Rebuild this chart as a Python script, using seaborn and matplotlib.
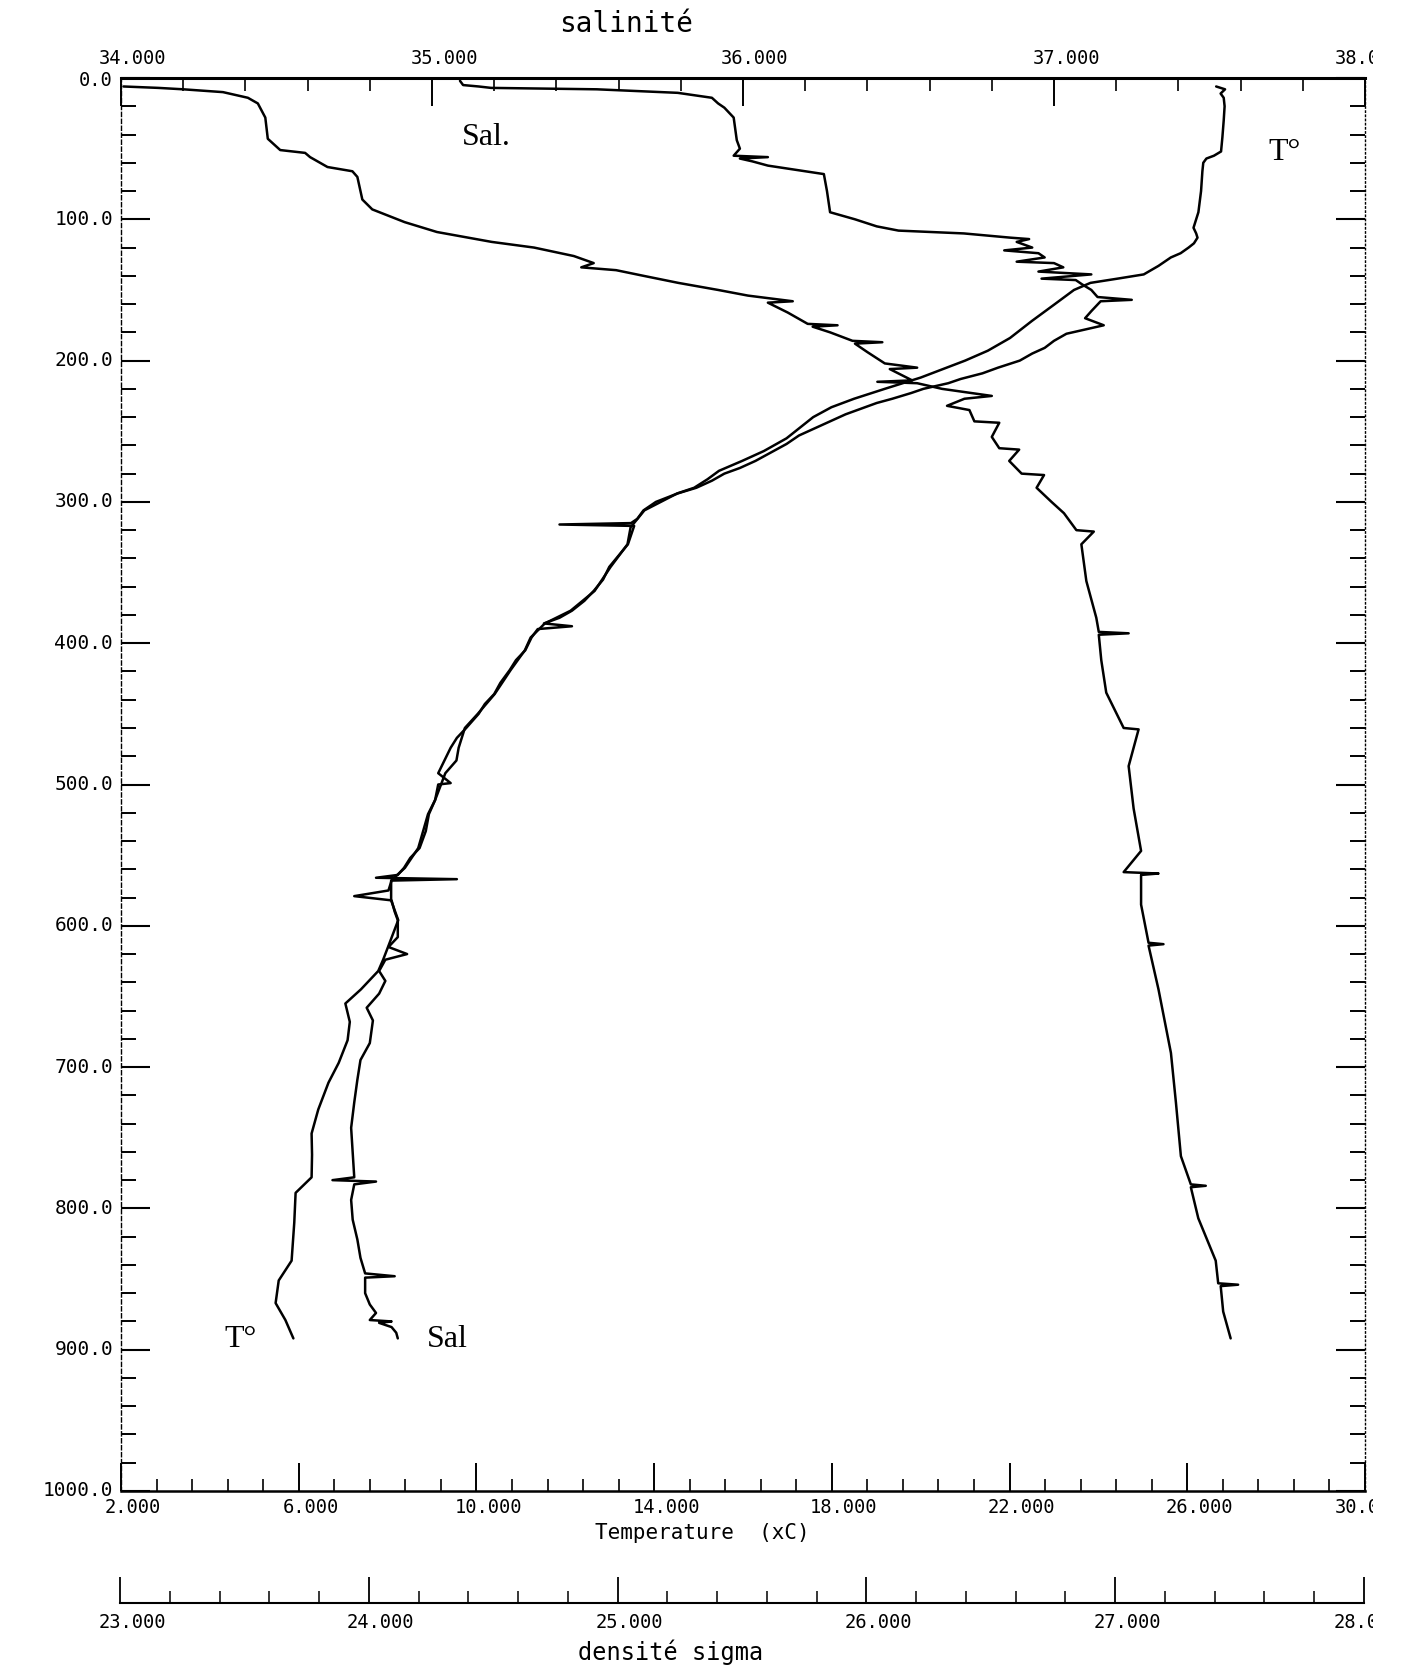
import matplotlib
matplotlib.use("Agg")
import matplotlib.pyplot as plt
import matplotlib.transforms as mtransforms
from matplotlib.ticker import FixedLocator
import numpy as np
import seaborn as sns

# CTD profile (depth in m)
temp_depth = [6, 8, 11, 14, 20, 30, 42, 52, 55, 57,
              60, 66, 80, 95, 106, 110, 113, 117, 120, 124,
              127, 133, 139, 142, 145, 150, 160, 172, 184, 193,
              200, 206, 212, 220, 227, 233, 240, 255, 264, 271,
              278, 284, 290, 294, 306, 318, 330, 346, 363, 377,
              386, 396, 405, 419, 436, 450, 460, 474, 483, 492,
              511, 521, 545, 559, 568, 582, 596, 615, 624, 632,
              645, 655, 668, 681, 697, 711, 730, 747, 762, 778,
              789, 810, 837, 851, 867, 879, 892]
temp_val = [26.65, 26.85, 26.75, 26.82, 26.84, 26.82, 26.79, 26.76, 26.60, 26.43,
            26.36, 26.34, 26.31, 26.25, 26.14, 26.20, 26.23, 26.15, 26.03, 25.85,
            25.63, 25.35, 25.02, 24.43, 23.82, 23.45, 23.02, 22.50, 22.01, 21.51,
            21.00, 20.50, 20.00, 19.19, 18.50, 17.99, 17.58, 16.98, 16.47, 15.98,
            15.46, 15.20, 14.90, 14.52, 13.78, 13.47, 13.40, 13.02, 12.66, 12.12,
            11.54, 11.22, 11.09, 10.77, 10.41, 10.03, 9.74, 9.60, 9.55, 9.30,
            9.07, 8.91, 8.69, 8.39, 8.08, 8.08, 8.24, 8.01, 7.90, 7.79,
            7.40, 7.05, 7.15, 7.10, 6.90, 6.67, 6.44, 6.29, 6.30, 6.29,
            5.93, 5.90, 5.84, 5.55, 5.48, 5.70, 5.88]

sal_depth = [2, 5, 6, 7, 7.5, 8, 10.5, 14, 18, 21,
             28, 44, 50, 55, 56, 57, 59, 62, 65, 68,
             80, 95, 100, 105, 108, 110, 113, 114, 116, 120,
             122, 124, 127, 130, 131, 134, 137, 139, 142, 143,
             146, 150, 155, 157, 158, 165, 170, 175, 181, 186,
             191, 195, 200, 205, 209, 213, 216, 220, 223, 227,
             230, 234, 238, 243, 248, 253, 259, 265, 271, 276,
             280, 285, 290, 294, 300, 306, 312, 315, 316, 317,
             330, 338, 346, 355, 363, 370, 377, 382, 386, 388,
             390, 396, 405, 412, 419, 428, 436, 443, 450, 455,
             460, 467, 474, 483, 492, 499, 500, 511, 521, 533,
             545, 552, 559, 564, 566, 567, 568, 575, 579, 582,
             590, 596, 608, 615, 620, 624, 632, 639, 648, 658,
             667, 683, 695, 709, 725, 743, 760, 778, 780, 781,
             783, 794, 808, 822, 835, 846, 848, 849, 860, 868,
             874, 879, 880, 881, 884, 888, 892]
sal_val = [35.09, 35.10, 35.15, 35.19, 35.35, 35.53, 35.79, 35.90, 35.92, 35.94,
           35.97, 35.98, 35.99, 35.97, 36.08, 35.99, 36.03, 36.08, 36.17, 36.26,
           36.27, 36.28, 36.36, 36.43, 36.50, 36.71, 36.86, 36.92, 36.88, 36.93,
           36.84, 36.95, 36.97, 36.88, 37.00, 37.03, 36.95, 37.12, 36.96, 37.07,
           37.09, 37.12, 37.14, 37.25, 37.15, 37.12, 37.10, 37.16, 37.04, 37.00,
           36.97, 36.93, 36.89, 36.82, 36.77, 36.70, 36.66, 36.58, 36.54, 36.48,
           36.43, 36.38, 36.33, 36.28, 36.23, 36.18, 36.14, 36.09, 36.04, 35.99,
           35.94, 35.90, 35.85, 35.79, 35.72, 35.68, 35.66, 35.64, 35.41, 35.65,
           35.63, 35.60, 35.57, 35.55, 35.52, 35.49, 35.45, 35.41, 35.36, 35.45,
           35.34, 35.32, 35.30, 35.27, 35.25, 35.22, 35.20, 35.17, 35.15, 35.13,
           35.11, 35.08, 35.06, 35.04, 35.02, 35.06, 35.02, 35.01, 34.99, 34.98,
           34.96, 34.93, 34.91, 34.89, 34.82, 35.08, 34.87, 34.86, 34.75, 34.87,
           34.88, 34.89, 34.89, 34.86, 34.92, 34.85, 34.83, 34.85, 34.83, 34.79,
           34.81, 34.80, 34.77, 34.76, 34.75, 34.74, 34.745, 34.75, 34.68, 34.82,
           34.75, 34.74, 34.745, 34.76, 34.77, 34.785, 34.88, 34.785, 34.785, 34.80,
           34.82, 34.80, 34.87, 34.83, 34.87, 34.885, 34.89]

dens_depth = [6, 7, 8, 10, 14, 18, 28, 43, 51, 53,
              56, 63, 66, 70, 86, 93, 102, 109, 116, 120,
              126, 131, 134, 136, 140, 145, 150, 154, 158, 159,
              166, 174, 175, 176, 180, 186, 187, 188, 194, 202,
              205, 206, 214, 215, 216, 220, 225, 227, 232, 235,
              243, 244, 254, 262, 263, 271, 280, 281, 290, 300,
              308, 320, 321, 330, 356, 382, 392, 393, 394, 412,
              435, 460, 461, 487, 517, 547, 562, 563, 564, 585,
              612, 613, 614, 645, 690, 725, 763, 783, 784, 785,
              807, 837, 853, 854, 855, 873, 892]
dens_val = [23.01, 23.15, 23.25, 23.41, 23.51, 23.55, 23.58, 23.59, 23.64, 23.74,
            23.76, 23.83, 23.93, 23.95, 23.97, 24.01, 24.14, 24.27, 24.49, 24.66,
            24.82, 24.90, 24.85, 24.99, 25.10, 25.24, 25.40, 25.52, 25.70, 25.60,
            25.68, 25.76, 25.88, 25.78, 25.85, 25.94, 26.06, 25.95, 26.00, 26.07,
            26.20, 26.09, 26.18, 26.04, 26.20, 26.30, 26.50, 26.39, 26.32, 26.41,
            26.43, 26.53, 26.50, 26.53, 26.61, 26.57, 26.62, 26.71, 26.68, 26.74,
            26.79, 26.84, 26.91, 26.86, 26.88, 26.92, 26.93, 27.05, 26.93, 26.94,
            26.96, 27.03, 27.09, 27.05, 27.07, 27.10, 27.03, 27.17, 27.10, 27.10,
            27.13, 27.19, 27.13, 27.17, 27.22, 27.24, 27.26, 27.30, 27.36, 27.30,
            27.33, 27.40, 27.41, 27.49, 27.42, 27.43, 27.46]

temp_ticks = [2, 6, 10, 14, 18, 22, 26, 30]
sal_ticks = [34, 35, 36, 37, 38]
dens_ticks = [23, 24, 25, 26, 27, 28]
depth_ticks = [0, 100, 200, 300, 400, 500, 600, 700, 800, 900, 1000]

W, H = 1408, 1668
MONO = ["DejaVu Sans Mono", "DejaVu Sans"]
SERIF = ["Liberation Serif", "DejaVu Serif"]

sns.set_theme(style="white", rc={"axes.edgecolor": "black", "xtick.color": "black",
                                 "ytick.color": "black", "text.color": "black"})
plt.rcParams["font.family"] = MONO

fig = plt.figure(figsize=(W / 100, H / 100), dpi=100)
fig.patch.set_facecolor("white")


def px_box(left, top, right, bottom):
    return [left / W, 1 - bottom / H, (right - left) / W, (bottom - top) / H]


ax = fig.add_axes(px_box(121, 78, 1365, 1491))
ax_sal = ax.twiny()
ax_dens = ax.twiny()

line_kw = dict(sort=False, estimator=None, color="black", linewidth=1.8)
sns.lineplot(x=temp_val, y=temp_depth, ax=ax, **line_kw)
sns.lineplot(x=sal_val, y=sal_depth, ax=ax_sal, **line_kw)
sns.lineplot(x=dens_val, y=dens_depth, ax=ax_dens, **line_kw)

ax.set_xlim(temp_ticks[0], temp_ticks[-1])
ax_sal.set_xlim(sal_ticks[0], sal_ticks[-1])
ax_dens.set_xlim(dens_ticks[0], dens_ticks[-1])
ax.set_ylim(depth_ticks[-1], depth_ticks[0])
for a in (ax, ax_sal, ax_dens):
    a.set_xlabel("")
    a.set_ylabel("")
    a.grid(False)

# bottom: temperature ticks pointing up
ax.xaxis.set_major_locator(FixedLocator(temp_ticks))
ax.xaxis.set_minor_locator(FixedLocator(np.arange(2, 30.01, 0.8)))
ax.tick_params(axis="x", which="both", direction="in", bottom=True, top=False,
               labelbottom=False, labeltop=False)
ax.tick_params(axis="x", which="major", length=20, width=1.4)
ax.tick_params(axis="x", which="minor", length=9, width=1.2)

# depth ticks on both sides
ax.yaxis.set_major_locator(FixedLocator(depth_ticks))
ax.yaxis.set_minor_locator(FixedLocator(np.arange(0, 1001, 20)))
ax.tick_params(axis="y", which="both", direction="in", left=True, right=True,
               labelleft=False, labelright=False)
ax.tick_params(axis="y", which="major", length=21, width=1.5)
ax.tick_params(axis="y", which="minor", length=11, width=1.4)

# top: salinity ticks pointing down
ax_sal.xaxis.set_major_locator(FixedLocator(sal_ticks))
ax_sal.xaxis.set_minor_locator(FixedLocator(np.arange(34, 38.01, 0.2)))
ax_sal.tick_params(axis="x", which="both", direction="in", top=True, bottom=False,
                   labeltop=False, labelbottom=False)
ax_sal.tick_params(axis="x", which="major", length=20, width=1.4)
ax_sal.tick_params(axis="x", which="minor", length=9, width=1.2)

ax_dens.tick_params(axis="x", which="both", top=False, bottom=False,
                    labeltop=False, labelbottom=False)
for a in (ax_sal, ax_dens):
    for s in a.spines.values():
        s.set_visible(False)

ax.spines["top"].set_linewidth(2.2)
ax.spines["bottom"].set_linewidth(1.8)
ax.spines["left"].set_linewidth(1.0)
ax.spines["left"].set_linestyle((0, (3, 2)))
ax.spines["right"].set_linewidth(1.0)
ax.spines["right"].set_linestyle((0, (1, 2)))

# separate density scale under the plot
ax_scale = fig.add_axes(px_box(120, 1580, 1364, 1603))
ax_scale.set_xlim(dens_ticks[0], dens_ticks[-1])
ax_scale.set_ylim(0, 1)
ax_scale.set_facecolor("none")
ax_scale.xaxis.set_major_locator(FixedLocator(dens_ticks))
ax_scale.xaxis.set_minor_locator(FixedLocator(np.arange(23, 28.01, 0.2)))
ax_scale.tick_params(axis="x", which="both", direction="in", bottom=True, top=False,
                     labelbottom=False)
ax_scale.tick_params(axis="x", which="major", length=19, width=1.3)
ax_scale.tick_params(axis="x", which="minor", length=9, width=1.1)
ax_scale.tick_params(axis="y", left=False, right=False, labelleft=False)
for name, s in ax_scale.spines.items():
    s.set_visible(name == "bottom")
ax_scale.spines["bottom"].set_linewidth(1.5)

clip = mtransforms.TransformedBbox(mtransforms.Bbox.from_extents(0, 0, 1373 / W, 1),
                                   fig.transFigure)


def tick_labels(axis, ticks, baseline_px, size=13.5):
    base = mtransforms.blended_transform_factory(axis.transData, fig.transFigure)
    for i, v in enumerate(ticks):
        last = i == len(ticks) - 1
        dx = -30 if last else 12
        tr = base + mtransforms.ScaledTranslation(dx / 100, 0, fig.dpi_scale_trans)
        t = fig.text(v, 1 - baseline_px / H, f"{v:.3f}", transform=tr, fontsize=size,
                     ha="left" if last else "center", va="baseline", family=MONO)
        if last:
            t.set_clip_box(clip)
            t.set_clip_on(True)


tick_labels(ax_sal, sal_ticks, 64)
tick_labels(ax, temp_ticks, 1513)
tick_labels(ax_scale, dens_ticks, 1628)

ytr = mtransforms.blended_transform_factory(fig.transFigure, ax.transData)
for v in depth_ticks:
    if v == 0:
        fig.text(113 / W, 1 - 86 / H, f"{v:.1f}", fontsize=13.5, ha="right",
                 va="baseline", family=MONO)
    else:
        fig.text(113 / W, v, f"{v:.1f}", transform=ytr, fontsize=14,
                 ha="right", va="center", family=MONO)

fig.text(626 / W, 1 - 32 / H, "salinité", fontsize=20, ha="center", va="baseline",
         family=MONO)
fig.text(702 / W, 1 - 1539 / H, "Temperature  (xC)", fontsize=15, ha="center",
         va="baseline", family=MONO)
fig.text(671 / W, 1 - 1660 / H, "densité sigma", fontsize=17, ha="center",
         va="baseline", family=MONO)

# curve annotations
ax.text(0.294, 0.958, "Sal.", transform=ax.transAxes, fontsize=23, family=SERIF,
        ha="center", va="center")
ax.text(0.935, 0.947, "T°", transform=ax.transAxes, fontsize=23, family=SERIF,
        ha="center", va="center")
ax.text(0.096, 0.107, "T°", transform=ax.transAxes, fontsize=23, family=SERIF,
        ha="center", va="center")
ax.text(0.262, 0.107, "Sal", transform=ax.transAxes, fontsize=23, family=SERIF,
        ha="center", va="center")

fig.savefig("out.png", dpi=100)
